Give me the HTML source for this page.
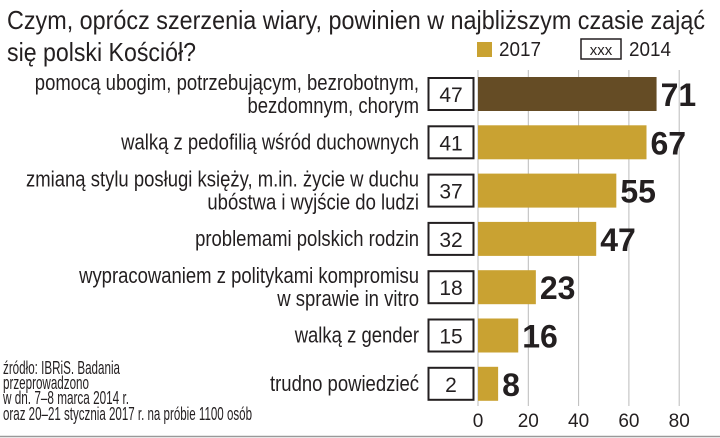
<!DOCTYPE html>
<html><head><meta charset="utf-8"><style>
body{margin:0;background:#fff}
svg{display:block;font-family:"Liberation Sans Narrow","Liberation Sans",sans-serif}
</style></head><body>
<svg id="chart" width="720" height="438" viewBox="0 0 720 438">
<text x="7" y="29" font-size="26" fill="#231f20" textLength="698" lengthAdjust="spacingAndGlyphs">Czym, oprócz szerzenia wiary, powinien w najbliższym czasie zająć</text>
<text x="7" y="61" font-size="26" fill="#231f20" textLength="189" lengthAdjust="spacingAndGlyphs">się polski Kościół?</text>
<g>
<rect x="477" y="42" width="15" height="15" fill="#c9a232"/>
<text x="499" y="56" font-size="20" fill="#231f20" textLength="42" lengthAdjust="spacingAndGlyphs">2017</text>
<rect x="581" y="39" width="40" height="20" fill="#fff" stroke="#231f20" stroke-width="1.5"/>
<text x="601" y="55" font-size="15" fill="#231f20" text-anchor="middle">xxx</text>
<text x="629" y="56" font-size="20" fill="#231f20" textLength="42" lengthAdjust="spacingAndGlyphs">2014</text>
</g>
<g id="grid"></g><g id="bars"></g>
<g font-size="18" fill="#231f20">
<text x="3" y="374" textLength="117" lengthAdjust="spacingAndGlyphs">źródło: IBRiS. Badania</text>
<text x="3" y="389" textLength="86" lengthAdjust="spacingAndGlyphs">przeprowadzono</text>
<text x="3" y="404" textLength="126" lengthAdjust="spacingAndGlyphs">w dn. 7–8 marca 2014 r.</text>
<text x="3" y="420" textLength="249" lengthAdjust="spacingAndGlyphs">oraz 20–21 stycznia 2017 r. na próbie 1100 osób</text>
</g>
<line x1="0" y1="436.5" x2="720" y2="436.5" stroke="#999" stroke-width="1.5"/>
</svg>
<script>
const categories=[["pomocą ubogim, potrzebującym, bezrobotnym,","bezdomnym, chorym"],["walką z pedofilią wśród duchownych"],["zmianą stylu posługi księży, m.in. życie w duchu","ubóstwa i wyjście do ludzi"],["problemami polskich rodzin"],["wypracowaniem z politykami kompromisu","w sprawie in vitro"],["walką z gender"],["trudno powiedzieć"]];
const values2017=[71,67,55,47,23,16,8];
const values2014=[47,41,37,32,18,15,2];
const ticks=[0,20,40,60,80];
const NS="http://www.w3.org/2000/svg";
const x0=478,pxPerUnit=2.515;
const xs=v=>x0+v*pxPerUnit;
const rowY=i=>94+i*48.3;
function mk(tag,attrs,parent,txt){const e=document.createElementNS(NS,tag);for(const k in attrs)e.setAttribute(k,attrs[k]);if(txt!=null)e.textContent=txt;parent.appendChild(e);return e;}
const grid=document.getElementById('grid'),bars=document.getElementById('bars');
ticks.forEach(t=>{
 const l=mk('line',{x1:xs(t),x2:xs(t),y1:70,y2:406,stroke:'#bbb','stroke-width':1},grid);
 
 
 const tx=mk('text',{x:xs(t),y:427,'font-size':19,'text-anchor':'middle',fill:'#231f20'},grid,t);
 
 
});
categories.forEach((c,i)=>{
 const cy=rowY(i);
 const r=mk('rect',{x:xs(0),y:cy-17,width:xs(values2017[i])-xs(0),height:34,fill:i===0?'#654c25':'#c9a232'},bars);
 
 
 const v=mk('text',{x:xs(values2017[i])+4,y:cy+12,'font-size':32,'font-weight':'bold',fill:'#231f20'},bars,values2017[i]);
 
 
 const b=mk('rect',{x:428.5,y:cy-16,width:45,height:32,fill:'#fff',stroke:'#231f20','stroke-width':2},bars);
 
 
 const bt=mk('text',{x:451,y:cy+8,'font-size':21,'text-anchor':'middle',fill:'#231f20'},bars,values2014[i]);
 
 
 c.forEach((ln,j)=>{
  const ly=c.length===1?cy+7:cy-4+j*23;
  const lt=mk('text',{x:419,y:ly,'font-size':22,'text-anchor':'end',fill:'#231f20','lengthAdjust':'spacingAndGlyphs'},bars,ln);
  
  
  const w=lt.getComputedTextLength();
  if(w>0) lt.setAttribute('textLength',(w*0.84).toFixed(1));
 });
});
</script>
</body></html>
